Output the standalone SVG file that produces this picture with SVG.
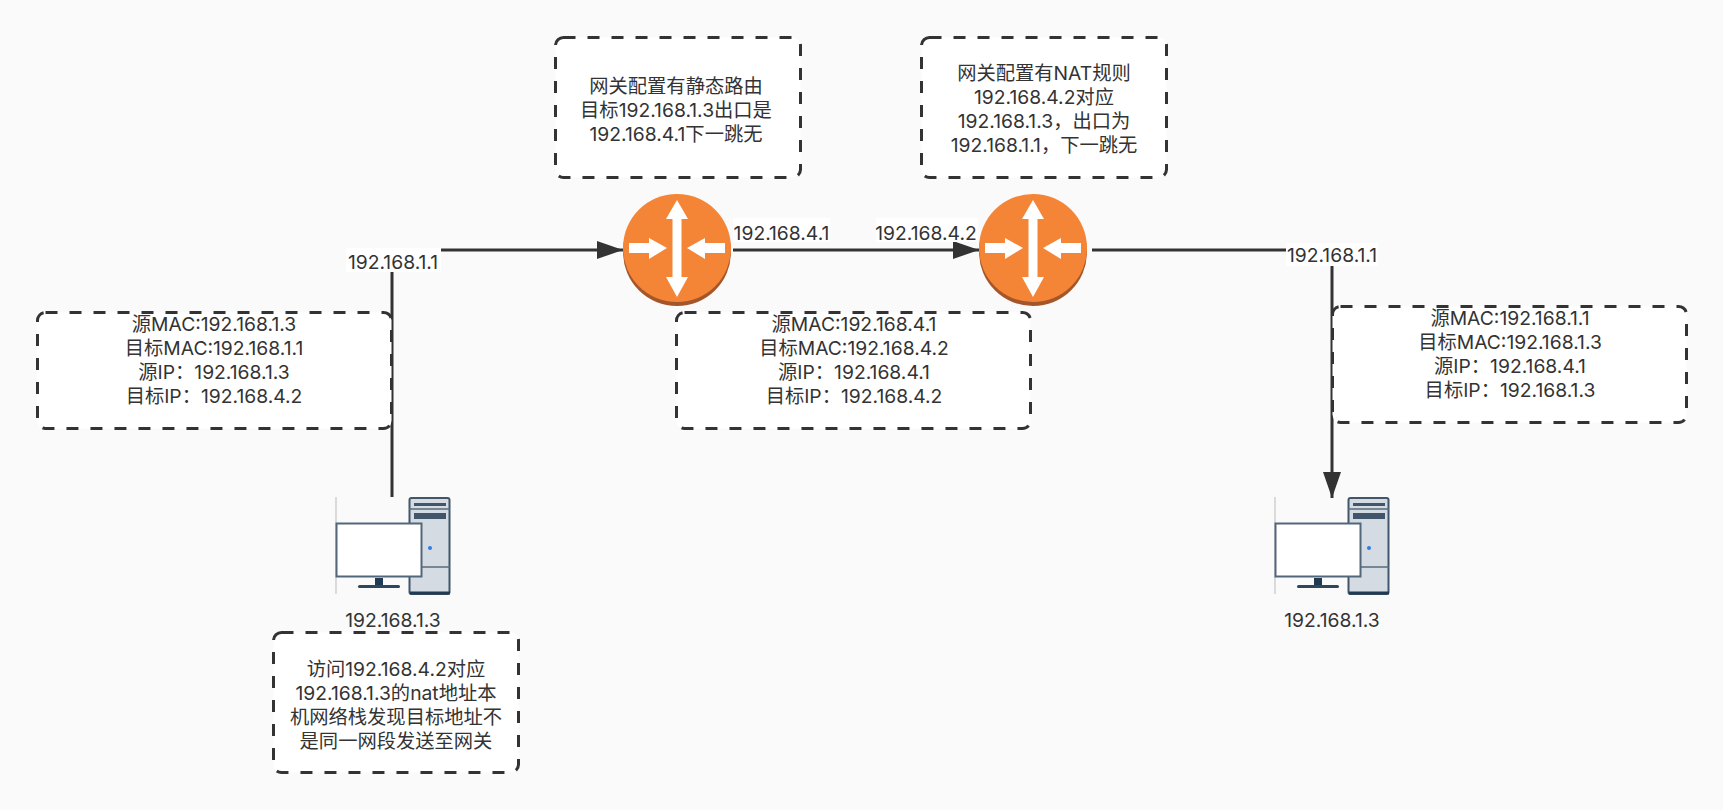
<svg xmlns="http://www.w3.org/2000/svg" width="1723" height="810" viewBox="0 0 1723 810">
<style>
text{font-family:"Inter","Noto Sans CJK SC",sans-serif;font-size:19.3px;fill:#333;text-anchor:middle}
.box{fill:#fff;stroke:#333;stroke-width:3;stroke-dasharray:12 12}
.wire{fill:none;stroke:#333;stroke-width:3}
.lab{fill:#fff}
</style>
<defs>
<marker id="ah" markerUnits="userSpaceOnUse" markerWidth="26" markerHeight="18" refX="26" refY="9" orient="auto"><path d="M0 0L26 9L0 18Z" fill="#333"/></marker>
<g id="router">
<circle cx="0" cy="4" r="54" fill="#a4562a"/>
<circle cx="0" cy="0" r="54" fill="#f58536"/>
<g fill="#fff">
<path d="M0 -48L11 -29H4.500V29H11L0 49L-11 29H-4.500V-29H-11Z"/>
<path d="M-48 -5H-28V-10L-10 0L-28 11V5H-48Z"/>
<path d="M48 -5H28V-10L10 0L28 11V5H48Z"/>
</g>
</g>
<g id="pc">
<path d="M336 497V594" stroke="#bbb" stroke-width="1" fill="none"/>
<rect x="409.500" y="498" width="40" height="96" rx="2" fill="#d5dbe2" stroke="#41566b" stroke-width="2"/>
<path d="M409 509H450M409 567H450" stroke="#5a6b7b" stroke-width="1.500"/>
<path d="M414 504.500H446" stroke="#41566b" stroke-width="3"/>
<rect x="414" y="513" width="32" height="6" fill="#41566b"/>
<path d="M410 593H450" stroke="#1f3a52" stroke-width="3"/>
<circle cx="430" cy="548" r="2" fill="#2f7de1"/>
<rect x="336.500" y="523.500" width="85" height="53" fill="#fff" stroke="#52677a" stroke-width="2"/>
<rect x="375" y="578" width="8" height="8" fill="#1f3a52"/>
<rect x="358" y="585" width="42" height="3" rx="1.500" fill="#2f475c"/>
</g>
</defs>
<rect width="1723" height="810" fill="#fafafa"/>
<g id="connectors">
<path class="wire" d="M392 497V272"/>
<path class="wire" d="M441 250H623" marker-end="url(#ah)"/>
<path class="wire" d="M733 250H979" marker-end="url(#ah)"/>
<path class="wire" d="M1092 250H1286"/>
<path class="wire" d="M1332 266V498" marker-end="url(#ah)"/>
<g id="connector-labels">
<rect class="lab" x="346" y="248" width="95" height="24"/>
<text x="393" y="269">192.168.1.1</text>
<rect class="lab" x="733" y="218" width="97" height="24"/>
<text x="781.500" y="240">192.168.4.1</text>
<rect class="lab" x="876" y="218" width="102" height="24"/>
<text x="926" y="240">192.168.4.2</text>
<rect class="lab" x="1286" y="243" width="92" height="23"/>
<text x="1332" y="262">192.168.1.1</text>
</g>
</g>
<g id="router1"><use href="#router" x="677" y="248"/></g>
<g id="router2"><use href="#router" x="1033" y="248"/></g>
<g id="pc1"><use href="#pc"/><text x="393" y="627">192.168.1.3</text></g>
<g id="pc2"><use href="#pc" x="939"/><text x="1332" y="627">192.168.1.3</text></g>
<g id="box-top1">
<rect class="box" x="555.500" y="37.500" width="245" height="140" rx="8"/>
<text x="676" y="93">网关配置有静态路由</text>
<text x="676" y="117">目标192.168.1.3出口是</text>
<text x="676" y="141">192.168.4.1下一跳无</text>
</g>
<g id="box-top2">
<rect class="box" x="921.500" y="37.500" width="245" height="140" rx="8"/>
<text x="1044" y="80">网关配置有NAT规则</text>
<text x="1044" y="104">192.168.4.2对应</text>
<text x="1044" y="128">192.168.1.3，出口为</text>
<text x="1044" y="152">192.168.1.1，下一跳无</text>
</g>
<g id="box-left">
<rect class="box" x="37.500" y="312.500" width="354" height="116" rx="8"/>
<text x="214" y="331">源MAC:192.168.1.3</text>
<text x="214" y="355">目标MAC:192.168.1.1</text>
<text x="214" y="379">源IP：192.168.1.3</text>
<text x="214" y="403">目标IP：192.168.4.2</text>
</g>
<g id="box-mid">
<rect class="box" x="676.500" y="312.500" width="354" height="116" rx="8"/>
<text x="854" y="331">源MAC:192.168.4.1</text>
<text x="854" y="355">目标MAC:192.168.4.2</text>
<text x="854" y="379">源IP：192.168.4.1</text>
<text x="854" y="403">目标IP：192.168.4.2</text>
</g>
<g id="box-right">
<rect class="box" x="1332.500" y="306.500" width="354" height="116" rx="8"/>
<text x="1510" y="325">源MAC:192.168.1.1</text>
<text x="1510" y="349">目标MAC:192.168.1.3</text>
<text x="1510" y="373">源IP：192.168.4.1</text>
<text x="1510" y="397">目标IP：192.168.1.3</text>
</g>
<g id="box-bottom">
<rect class="box" x="273.500" y="632.500" width="245" height="140" rx="8"/>
<text x="396" y="676">访问192.168.4.2对应</text>
<text x="396" y="700">192.168.1.3的nat地址本</text>
<text x="396" y="724">机网络栈发现目标地址不</text>
<text x="396" y="748">是同一网段发送至网关</text>
</g>
</svg>
